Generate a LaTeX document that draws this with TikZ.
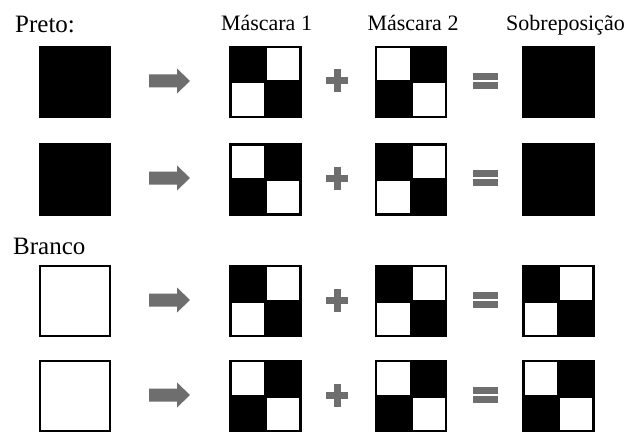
\documentclass[tikz,border=0pt]{standalone}
\usepackage{fontspec}
\setmainfont{Liberation Serif}
\usetikzlibrary{calc}
\definecolor{symgray}{HTML}{6E6E6E}
\tikzset{
  sq/.style={minimum size=70.5pt, inner sep=0pt, outer sep=0pt, draw=black, line width=1.6pt},
  solidsq/.style={sq, fill=black},
  emptysq/.style={sq, fill=white},
  maskA/.style={sq, fill=black, path picture={
      \fill[white] ($(path picture bounding box.north)+(1.5pt,-1.5pt)$) rectangle ($(path picture bounding box.east)+(-1.5pt,1.5pt)$);
      \fill[white] ($(path picture bounding box.west)+(1.5pt,-1.5pt)$) rectangle ($(path picture bounding box.south)+(-1.5pt,1.5pt)$);
  }},
  maskB/.style={sq, fill=black, path picture={
      \fill[white] ($(path picture bounding box.north west)+(1.5pt,-1.5pt)$) rectangle ($(path picture bounding box.center)+(-1.5pt,1.5pt)$);
      \fill[white] ($(path picture bounding box.center)+(1.5pt,-1.5pt)$) rectangle ($(path picture bounding box.south east)+(-1.5pt,1.5pt)$);
  }},
  headlabel/.style={font=\fontsize{22}{26}\selectfont, anchor=base, inner sep=0pt},
  sidelabel/.style={font=\fontsize{25}{30}\selectfont, anchor=base west, inner sep=0pt},
  rarrow/.pic={\fill[symgray] (-20.5pt,-6.5pt) -- (7.5pt,-6.5pt) -- (7.5pt,-12.5pt) -- (20.5pt,0pt) -- (7.5pt,12.5pt) -- (7.5pt,6.5pt) -- (-20.5pt,6.5pt) -- cycle;},
  plussign/.pic={\fill[symgray] (-11pt,-3.5pt) rectangle (11pt,3.5pt); \fill[symgray] (-3.5pt,-11.5pt) rectangle (3.5pt,11.5pt);},
  eqsign/.pic={\fill[symgray] (-12.5pt,1pt) rectangle (12.5pt,8pt); \fill[symgray] (-12.5pt,-1pt) rectangle (12.5pt,-8pt);}
}
\begin{document}
\begin{tikzpicture}[x=1pt,y=-1pt]
\fill[white] (0,0) rectangle (644,433);
\useasboundingbox (0,0) rectangle (644,433);

% labels
\node[sidelabel] (preto) at (15,33) {Preto:};
\node[headlabel] (hm1) at (266.5,31) {Máscara 1};
\node[headlabel] (hm2) at (413,31) {Máscara 2};
\node[headlabel] (hsob) at (565.5,31) {Sobreposição};
\node[sidelabel] (branco) at (13,254) {Branco};

% row 1
\node[solidsq] (s1) at (75,82) {};
\node[maskA] (a1) at (265.5,82) {};
\node[maskB] (b1) at (411,82) {};
\node[solidsq] (r1) at (558.5,82) {};
% row 2
\node[solidsq] (s2) at (75,179.5) {};
\node[maskB] (a2) at (265.5,179.5) {};
\node[maskA] (b2) at (411,179.5) {};
\node[solidsq] (r2) at (558.5,179.5) {};
% row 3
\node[emptysq] (s3) at (75,301) {};
\node[maskA] (a3) at (265.5,301) {};
\node[maskA] (b3) at (411,301) {};
\node[maskA] (r3) at (558.5,301) {};
% row 4
\node[emptysq] (s4) at (75,396) {};
\node[maskB] (a4) at (265.5,396) {};
\node[maskB] (b4) at (411,396) {};
\node[maskB] (r4) at (558.5,396) {};

% operators
\foreach \i/\yy in {1/81,2/178,3/300,4/395}{
  \pic (arr\i) at (169.5,\yy) {rarrow};
  \pic (pls\i) at (337,\yy) {plussign};
  \pic (eq\i) at (485.5,\yy) {eqsign};
}
\end{tikzpicture}
\end{document}
